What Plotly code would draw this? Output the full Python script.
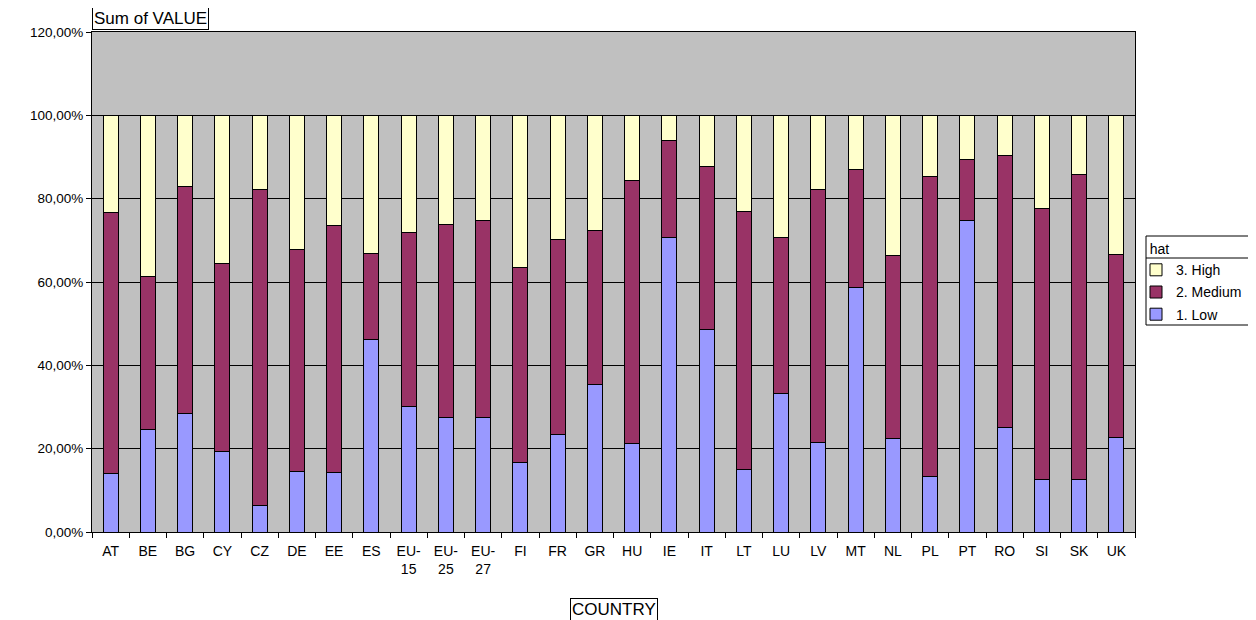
import plotly.graph_objects as go

countries = ["AT", "BE", "BG", "CY", "CZ", "DE", "EE", "ES", "EU-15", "EU-25", "EU-27",
             "FI", "FR", "GR", "HU", "IE", "IT", "LT", "LU", "LV", "MT", "NL", "PL",
             "PT", "RO", "SI", "SK", "UK"]
country_labels = [c.replace("-", "-<br>") for c in countries]

low = [14.0, 24.7, 28.5, 19.4, 6.4, 14.5, 14.2, 46.2, 30.1, 27.6, 27.5,
       16.7, 23.5, 35.3, 21.3, 70.8, 48.5, 14.9, 33.3, 21.6, 58.7, 22.4, 13.3,
       74.8, 25.0, 12.6, 12.7, 22.7]
low_plus_medium = [76.8, 61.3, 83.0, 64.5, 82.3, 67.9, 73.6, 66.9, 71.9, 73.8, 74.7,
                   63.5, 70.2, 72.4, 84.4, 94.0, 87.8, 77.0, 70.8, 82.2, 87.1, 66.3, 85.3,
                   89.5, 90.4, 77.7, 85.7, 66.5]
medium = [round(m - l, 1) for m, l in zip(low_plus_medium, low)]
high = [round(100 - m, 1) for m in low_plus_medium]

y_ticks = [0, 20, 40, 60, 80, 100, 120]
y_tick_text = ["0,00%", "20,00%", "40,00%", "60,00%", "80,00%", "100,00%", "120,00%"]

FONT = "Liberation Sans, Arial, sans-serif"
line = dict(color="black", width=1)

# page body has an 8px margin: figure is 1248x612 placed at (8, 8)
W, H = 1248, 612
ML, MR, MT, MB = 84, 121, 24, 88
PW, PH = W - ML - MR, H - MT - MB


def px_x(screen_x):
    return (screen_x - 8 - ML) / PW


def px_y(screen_y):
    return (H - MB - (screen_y - 8)) / PH


fig = go.Figure()
fig.add_trace(go.Bar(x=country_labels, y=low, name="1. Low", legendgroup="low",
                     legendrank=3, marker=dict(color="#9999FF", line=line)))
fig.add_trace(go.Bar(x=country_labels, y=medium, name="2. Medium", legendgroup="med",
                     legendrank=2, marker=dict(color="#993366", line=line)))
fig.add_trace(go.Bar(x=country_labels, y=high, name="3. High", legendgroup="high",
                     legendrank=1, marker=dict(color="#FFFFCC", line=line)))

fig.update_layout(
    width=W, height=H,
    barmode="stack", bargap=0.6,
    paper_bgcolor="white", plot_bgcolor="#C0C0C0",
    margin=dict(l=ML, r=MR, t=MT, b=MB, autoexpand=False),
    font=dict(family=FONT, size=13, color="black"),
    showlegend=True,
    legend=dict(
        title=dict(text="\u00a0\u00a0\u00a0hat", font=dict(size=14)),
        traceorder="grouped",
        x=px_x(1136), y=px_y(236), xanchor="left", yanchor="top",
        bgcolor="rgba(0,0,0,0)", borderwidth=0,
        font=dict(size=14), itemwidth=30, tracegroupgap=1,
    ),
    xaxis=dict(
        showline=True, linecolor="black", linewidth=1, mirror=True,
        ticks="outside", ticklen=5, tickcolor="black", tickson="boundaries",
        tickfont=dict(size=14), showgrid=False, ticklabelstandoff=6,
    ),
    yaxis=dict(
        range=[0, 120], tickvals=y_ticks, ticktext=y_tick_text,
        showline=True, linecolor="black", linewidth=1, mirror=True,
        ticks="outside", ticklen=5, tickcolor="black",
        gridcolor="black", gridwidth=1, tickfont=dict(size=13.5), zeroline=False,
    ),
    annotations=[
        dict(text="Sum of VALUE", xref="paper", yref="paper", x=0, y=px_y(30),
             xanchor="left", yanchor="bottom", showarrow=False,
             bordercolor="black", borderwidth=1, borderpad=1, bgcolor="white",
             font=dict(size=17)),
        dict(text="COUNTRY", xref="paper", yref="paper", x=px_x(614), y=px_y(598),
             xanchor="center", yanchor="top", showarrow=False,
             bordercolor="black", borderwidth=1, borderpad=1, bgcolor="white",
             font=dict(size=17)),
    ],
    shapes=[
        # legend frame and title separator
        dict(type="rect", xref="paper", yref="paper", layer="below",
             x0=px_x(1146), x1=px_x(1260), y0=px_y(325), y1=px_y(236),
             fillcolor="white", line=dict(color="black", width=1)),
        dict(type="line", xref="paper", yref="paper",
             x0=px_x(1146), x1=px_x(1260), y0=px_y(258), y1=px_y(258),
             line=dict(color="black", width=1)),
    ],
)

fig.write_html("out.html")
